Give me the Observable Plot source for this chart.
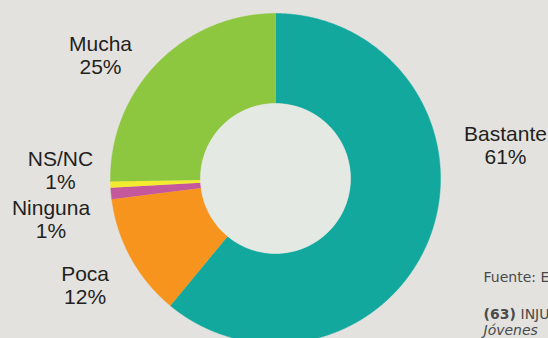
<!DOCTYPE html>
<html><head><meta charset="utf-8">
<script src="https://cdn.jsdelivr.net/npm/d3@7"></script>
<script src="https://cdn.jsdelivr.net/npm/@observablehq/plot@0.6"></script>
<style>html,body{margin:0;padding:0;background:#e3e2df;overflow:hidden}#chart svg{display:block}</style>
</head><body><div id="chart"></div>
<script>
// ---- data ----
const categories = ["Bastante", "Poca", "Ninguna", "NS/NC", "Mucha"];
const values = [61.0, 12.0, 1.1, 0.6, 25.3];
const valueLabels = ["61%", "12%", "1%", "1%", "25%"];
const colors = ["#13a89e", "#f7941d", "#c5579c", "#f2eb30", "#8dc63f"];
const sourceText = "Fuente: E";
const noteNumber = "(63)";
const noteText = "INJU";
const noteItalic = "Jóvenes";

// ---- layout ----
const W = 548, H = 338, CX = 275, CY = 178, R = 165, R_IN = 75;
const toX = px => (px - CX) / R;
const toY = py => (CY - py) / R;
const labelPx = {
  "Bastante": [505, 145],
  "Poca": [84.6, 285],
  "Ninguna": [50.5, 219],
  "NS/NC": [60, 170],
  "Mucha": [100, 55]
};

const data = categories.map((c, i) => ({name: c, value: values[i], label: valueLabels[i]}));
const arcs = d3.pie().sort(null).value(d => d.value)(data);
const ratio = R_IN / R;
const slicePts = [];
arcs.forEach(a => {
  const n = Math.max(2, Math.ceil((a.endAngle - a.startAngle) / 0.005));
  for (let i = 0; i <= n; i++) {
    const t = a.startAngle + (a.endAngle - a.startAngle) * i / n;
    slicePts.push({name: a.data.name, x: Math.sin(t), y: Math.cos(t)});
  }
  for (let i = n; i >= 0; i--) {
    const t = a.startAngle + (a.endAngle - a.startAngle) * i / n;
    slicePts.push({name: a.data.name, x: ratio * Math.sin(t), y: ratio * Math.cos(t)});
  }
});
const holePts = d3.range(0, 361, 1).map(d => {
  const t = d * Math.PI / 180;
  return {x: ratio * Math.sin(t), y: ratio * Math.cos(t)};
});
const labels = data.map(d => ({
  x: toX(labelPx[d.name][0]), y: toY(labelPx[d.name][1]),
  text: d.name + "\n" + d.label
}));

const foot = {fontSize: 14, fill: "#4a4a4a", fontFamily: "DejaVu Sans, sans-serif", textAnchor: "start", lineAnchor: "bottom", text: d => d};
const chart = Plot.plot({
  width: W, height: H,
  margin: 0,
  style: {background: "#e3e2df", overflow: "hidden"},
  x: {domain: [toX(0), toX(W)], range: [0, W], axis: null},
  y: {domain: [toY(H), toY(0)], range: [H, 0], axis: null},
  color: {domain: categories, range: colors},
  marks: [
    Plot.line(slicePts, {x: "x", y: "y", z: "name", fill: "name", stroke: "name", strokeWidth: 0.5, curve: "linear"}),
    Plot.line(holePts, {x: "x", y: "y", fill: "#e4e9e3", stroke: "#e4e9e3", strokeWidth: 0.5}),
    Plot.text(labels, {x: "x", y: "y", text: "text", fontSize: 21, lineHeight: 1.1, fill: "#231f20",
      fontFamily: "Liberation Sans, Arial, sans-serif", textAnchor: "middle", lineAnchor: "middle"}),
    Plot.text([sourceText], {...foot, x: toX(483), y: toY(281)}),
    Plot.text([noteNumber], {...foot, x: toX(483), y: toY(318), fontWeight: "bold"}),
    Plot.text([noteText], {...foot, x: toX(483), y: toY(318), dx: 37}),
    Plot.text([noteItalic], {...foot, x: toX(483), y: toY(334), fontStyle: "italic"})
  ]
});
document.getElementById("chart").append(chart);
</script>
</body></html>
